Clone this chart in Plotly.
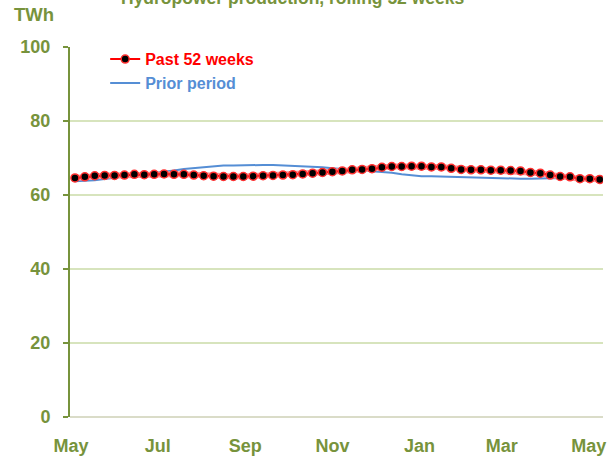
import plotly.graph_objects as go

weeks = list(range(54))
past_52_weeks = [64.6, 64.9, 65.2, 65.3, 65.3, 65.4, 65.6, 65.5, 65.6, 65.7,
                 65.6, 65.6, 65.4, 65.2, 65.1, 65.0, 65.0, 65.0, 65.1, 65.2,
                 65.3, 65.4, 65.5, 65.7, 65.9, 66.1, 66.3, 66.5, 66.8, 66.9,
                 67.1, 67.5, 67.7, 67.7, 67.8, 67.8, 67.6, 67.6, 67.2, 66.9,
                 66.8, 66.8, 66.7, 66.7, 66.6, 66.5, 66.1, 65.9, 65.4, 65.0,
                 64.9, 64.4, 64.4, 64.2]
prior_period = [63.7, 63.8, 64.0, 64.3, 64.6, 64.9, 65.2, 65.7, 66.0, 66.3,
                66.6, 67.0, 67.3, 67.6, 67.8, 68.0, 68.0, 68.1, 68.1, 68.1,
                68.1, 68.0, 68.0, 67.9, 67.8, 67.5, 67.2, 67.0, 66.9, 66.7,
                66.5, 66.2, 66.0, 65.6, 65.3, 65.1, 65.1, 65.0, 65.0, 64.9,
                64.8, 64.7, 64.5, 64.4, 64.4, 64.4, 64.4, 64.5, 64.6, 64.6,
                64.5, 64.3, 64.1, 64.0]
month_ticks = [-0.4, 8.35, 17.2, 26.0, 34.8, 43.1, 51.9]
month_labels = ["May", "Jul", "Sep", "Nov", "Jan", "Mar", "May"]
y_ticks = [0, 20, 40, 60, 80, 100]

GREEN = "#77933c"
FONT = "Liberation Sans, Arial, sans-serif"

fig = go.Figure()
fig.add_trace(go.Scatter(
    x=weeks, y=prior_period, mode="lines",
    name="<b><span style='color:#558ed5'>Prior period</span></b>",
    line=dict(color="#558ed5", width=2),
))
fig.add_trace(go.Scatter(
    x=weeks, y=past_52_weeks, mode="lines", showlegend=False, hoverinfo="skip",
    line=dict(color="#ff9a9a", width=6),
))
fig.add_trace(go.Scatter(
    x=weeks, y=past_52_weeks, mode="lines+markers",
    name="<b><span style='color:#ff0000'>Past 52 weeks</span></b>",
    line=dict(color="#ff0000", width=2),
    marker=dict(symbol="circle", size=8, color="black",
                line=dict(color="#ff3030", width=1.5)),
))

fig.update_layout(
    width=610, height=458,
    margin=dict(l=70, r=7, t=46.7, b=41.3, autoexpand=False),
    paper_bgcolor="white", plot_bgcolor="white",
    font=dict(family=FONT, color=GREEN, size=16),
    showlegend=True,
    legend=dict(x=0.066, y=1.013, xanchor="left", yanchor="top",
                traceorder="reversed", bgcolor="rgba(0,0,0,0)",
                font=dict(size=16, family=FONT), itemwidth=30,
                tracegroupgap=0),
    xaxis=dict(range=[-0.5, 53.33], tickmode="array", tickvals=month_ticks,
               ticktext=["<b>%s</b>" % m for m in month_labels],
               showgrid=False, zeroline=False, showline=False, automargin=False,
               ticks="outside", ticklen=12, tickcolor="rgba(0,0,0,0)",
               tickfont=dict(size=18, color=GREEN)),
    yaxis=dict(range=[0, 100], tickmode="array", tickvals=y_ticks,
               ticktext=["<b>%d</b>" % v for v in y_ticks],
               showgrid=True, gridcolor="#d7e4bd", gridwidth=1.5,
               zeroline=True, zerolinecolor="#dadcc8", zerolinewidth=2,
               showline=True, linecolor=GREEN, linewidth=2, automargin=False,
               ticks="outside", ticklen=5, tickcolor=GREEN, tickwidth=1.5,
               ticklabelstandoff=9,
               tickfont=dict(size=18, color=GREEN)),
)
fig.add_annotation(text="<b>Hydropower production, rolling 52 weeks</b>",
                   xref="paper", yref="paper", x=0.4175, y=1.1316,
                   xanchor="center", yanchor="middle", showarrow=False,
                   font=dict(size=17.5, color=GREEN, family=FONT))
fig.add_annotation(text="<b>TWh</b>", xref="paper", yref="paper",
                   x=-0.109, y=1.088, xanchor="left", yanchor="middle",
                   showarrow=False, font=dict(size=18.5, color=GREEN, family=FONT))

fig.write_html("out.html", config={"displayModeBar": False},
               post_script="document.body.style.margin='0';document.body.style.overflow='hidden';")
